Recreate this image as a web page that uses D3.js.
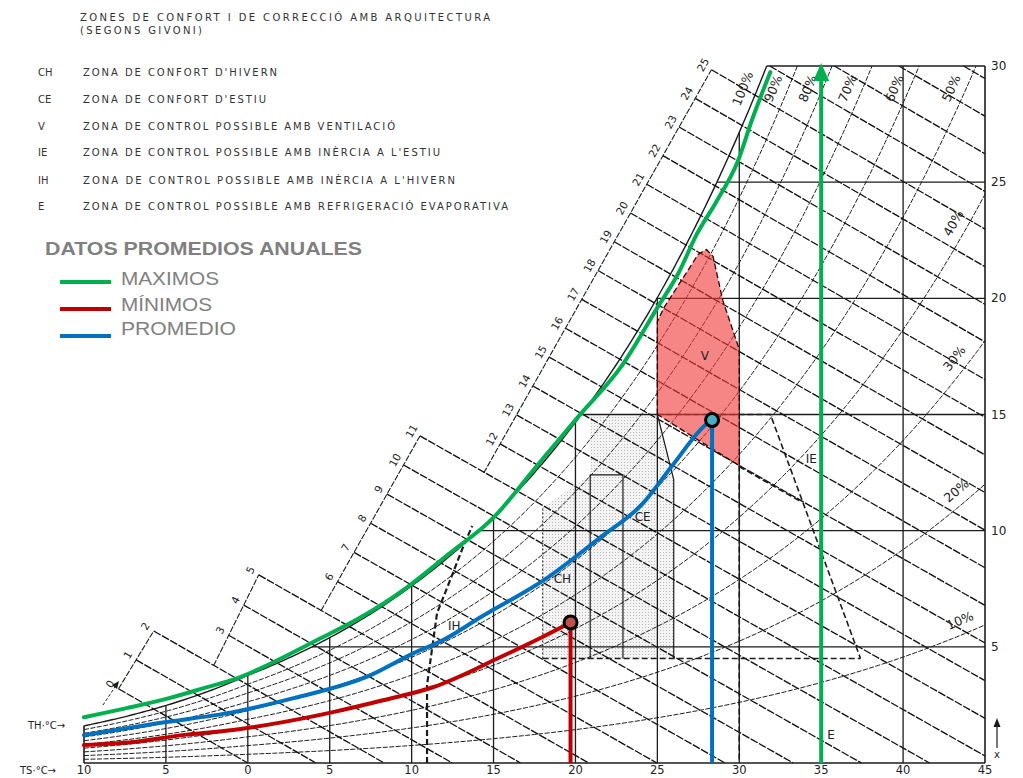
<!DOCTYPE html>
<html>
<head>
<meta charset="utf-8">
<script src="https://cdn.jsdelivr.net/npm/d3@7"></script>
<style>
html, body { margin: 0; padding: 0; background: #fff; }
svg { display: block; }
</style>
</head>
<body>
<svg id="chart" width="1023" height="778"></svg>
<script>
// ---------------- data ----------------
// Axis ticks: dry-bulb temperature (°C) and humidity ratio (g/kg)
const tempTicks = [-10, -5, 0, 5, 10, 15, 20, 25, 30, 35, 40, 45];
const humidityTicks = [5, 10, 15, 20, 25, 30];
// Relative humidity curves (%) and enthalpy lines (kcal/kg)
const rhLevels = [10, 20, 30, 40, 50, 60, 70, 80, 90, 100];
const enthalpyLevels = d3.range(0, 30);

// Annual averages: maximum series (dry bulb °C, humidity g/kg)
const maxTemp = [-10, -7.4, -4.8, -2.7, -0.5, 1.8, 4.2, 6.9, 9.7, 12.3, 15.0, 17.4, 20.1, 22.9, 25.0, 26.3, 27.4, 28.6, 29.9, 30.8, 31.9];
const maxHum  = [1.97, 2.36, 2.79, 3.22, 3.69, 4.42, 5.28, 6.27, 7.55, 9.01, 10.56, 12.58, 14.85, 17.17, 19.6, 21.1, 22.75, 24.16, 25.88, 27.73, 29.74];
const maxDryBulb = 35;

// Minimum series
const minTemp = [-10, -7.0, -4.0, -0.9, 2.15, 5.2, 8.25, 11.3, 15.4, 17.8, 19.7];
const minHum  = [0.77, 0.90, 1.20, 1.42, 1.76, 2.19, 2.70, 3.26, 4.55, 5.36, 6.05];

// Mean series
const avgTemp = [-10, -5.4, -0.9, 2.8, 7.5, 10.1, 11.9, 14.2, 18.3, 21.5, 24.1, 26.0, 28.0, 28.34];
const avgHum  = [1.2, 1.72, 2.19, 2.79, 3.78, 4.72, 5.28, 6.27, 7.98, 9.7, 11.16, 12.88, 14.59, 14.76];

// Givoni zones (dry bulb °C, humidity g/kg)
const zoneV = [[25, 15], [25, 19], [25.4, 19.6], [27.5, 21.9], [28.0, 22.1], [28.4, 21.8], [29, 19.9], [30, 17.8], [30, 12.8]];
const zoneComfort = [[18, 4.5], [18, 11], [20.9, 12.4], [20.9, 15], [25, 15], [26, 12.2], [26, 4.5]];
const zoneIH = [[10.94, 0], [10.94, 3.36], [11.55, 6.45], [12.35, 7.87], [13.14, 9.3], [13.7, 10.2]];
const zoneIE = [[25, 15], [31.9, 15], [37.4, 4.5]];
const zoneBase = [[18, 4.5], [37.4, 4.5]];

const zoneNames = ['CH', 'CE', 'V', 'IE', 'IH', 'E'];
const zoneTexts = [
  "ZONA DE CONFORT D'HIVERN",
  "ZONA DE CONFORT D'ESTIU",
  "ZONA DE CONTROL POSSIBLE AMB VENTILACIÓ",
  "ZONA DE CONTROL POSSIBLE AMB INÈRCIA A L'ESTIU",
  "ZONA DE CONTROL POSSIBLE AMB INÈRCIA A L'HIVERN",
  "ZONA DE CONTROL POSSIBLE AMB REFRIGERACIÓ EVAPORATIVA"
];
const zoneLabelPos = { V: [27.9, 17.5], IE: [34.4, 13.1], CE: [24.1, 10.6], CH: [19.2, 7.9], IH: [12.6, 5.9], E: [35.6, 1.2] };

const legendNames = ['MAXIMOS', 'MÍNIMOS', 'PROMEDIO'];
const legendColors = ['#00b050', '#c00000', '#0070c0'];

// ---------------- scales & psychrometrics ----------------
const svg = d3.select('#chart');
const x = d3.scaleLinear().domain([-10, 45]).range([84, 985]);
const y = d3.scaleLinear().domain([0, 30]).range([763, 66]);

const P = 101.325;
const pws = T => T >= 0 ? 0.61094 * Math.exp(17.625 * T / (T + 243.04))
                        : 0.61115 * Math.exp(22.452 * T / (T + 272.55));
const humidity = (T, rh) => { const p = rh * pws(T); return 622 * p / (P - p); };
const satTemp = W => {
  let lo = -20, hi = 60;
  for (let i = 0; i < 60; i++) { const m = (lo + hi) / 2; if (humidity(m, 1) < W) lo = m; else hi = m; }
  return (lo + hi) / 2;
};
const KCAL = 4.1868;
const enthalpy = (T, W) => (1.006 * T + W / 1000 * (2501 + 1.86 * T)) / KCAL;
const humOnEnthalpy = (H, T) => (H * KCAL - 1.006 * T) / (2501 + 1.86 * T) * 1000;
// dry bulb at which an enthalpy line reaches a given humidity ratio
const tempOnEnthalpy = (H, W) => (H * KCAL - W / 1000 * 2501) / (1.006 + W / 1000 * 1.86);

const line = d3.line().x(d => x(d[0])).y(d => y(d[1]));
const INK = '#1c1c1c';
const FONT = '"DejaVu Sans", sans-serif';

// ---------------- defs ----------------
const defs = svg.append('defs');
const pat = defs.append('pattern').attr('id', 'stipple').attr('width', 3).attr('height', 3)
  .attr('patternUnits', 'userSpaceOnUse');
pat.append('rect').attr('width', 3).attr('height', 3).attr('fill', '#f4f4f4');
pat.append('rect').attr('width', 1).attr('height', 1).attr('fill', '#b8b8b8');

// comfort zones (stippled)
svg.append('path').attr('d', line(zoneComfort) + 'Z').attr('fill', 'url(#stipple)');

// relative humidity curves, stopped at the top border
const curves = svg.append('g').attr('fill', 'none').attr('stroke', INK);
rhLevels.forEach(rh => {
  const phi = rh / 100;
  const tTop = Math.min(45, (() => {
    let lo = -10, hi = 60;
    for (let i = 0; i < 60; i++) { const m = (lo + hi) / 2; if (humidity(m, phi) < 30) lo = m; else hi = m; }
    return (lo + hi) / 2;
  })());
  const pts = d3.range(0, 221).map(i => { const T = -10 + (tTop + 10) * i / 220; return [T, humidity(T, phi)]; });
  curves.append('path').attr('d', line(pts))
    .attr('stroke-width', rh === 100 ? 1.4 : 1)
    .attr('stroke-dasharray', rh === 100 ? null : '5,1.5');
});

// enthalpy scale: stepped segments with a tick for every kcal/kg
const scaleSegments = [
  { from: 0, to: 2, a: [-7.5, 3.65], b: [-5.54, 5.92], base: 0 },
  { from: 3, to: 5, a: [-0.96, 5.79], b: [0.74, 8.20], base: 2 },
  { from: 6, to: 11, a: [5.51, 7.85], b: [10.51, 14.08], base: 5 },
  { from: 12, to: 25, a: [15.40, 13.73], b: [28.22, 29.74], base: 11 }
];
const hAtPx = (px, py) => enthalpy(x.invert(px), y.invert(py));
function pointOnSegment(seg, H) {
  const A = [x(seg.a[0]), y(seg.a[1])], B = [x(seg.b[0]), y(seg.b[1])];
  let lo = -3, hi = 4;
  for (let i = 0; i < 60; i++) {
    const m = (lo + hi) / 2;
    if (hAtPx(A[0] + m * (B[0] - A[0]), A[1] + m * (B[1] - A[1])) < H) lo = m; else hi = m;
  }
  const s = (lo + hi) / 2;
  return [A[0] + s * (B[0] - A[0]), A[1] + s * (B[1] - A[1])];
}

const tickStart = new Map();
scaleSegments.forEach(seg => {
  for (let h = seg.from; h <= seg.to; h++) tickStart.set(h, pointOnSegment(seg, h));
});

// enthalpy lines (practically straight), from their scale tick or the top border to the chart edge
const hLines = svg.append('g').attr('stroke', '#0d0d0d').attr('stroke-width', 1.3).attr('stroke-dasharray', '8,1.5');
enthalpyLevels.forEach(h => {
  const start = tickStart.get(h);
  const t0 = start ? x.invert(start[0]) : tempOnEnthalpy(h, 30);
  const t1 = Math.min(45, tempOnEnthalpy(h, 0));
  if (!(t1 > t0)) return;
  hLines.append('line')
    .attr('x1', x(t0)).attr('y1', y(humOnEnthalpy(h, t0)))
    .attr('x2', x(t1)).attr('y2', y(Math.max(0, humOnEnthalpy(h, t1))));
});

const scaleG = svg.append('g');
scaleSegments.forEach(seg => {
  const p0 = pointOnSegment(seg, seg.base);
  const p1 = pointOnSegment(seg, seg.to);
  scaleG.append('line').attr('x1', p0[0]).attr('y1', p0[1]).attr('x2', p1[0]).attr('y2', p1[1])
    .attr('stroke', INK).attr('stroke-width', 1.1).attr('stroke-dasharray', '6,1.5');
  const ang = Math.atan2(p1[1] - p0[1], p1[0] - p0[0]) * 180 / Math.PI;
  for (let h = seg.from; h <= seg.to; h++) {
    const p = tickStart.get(h);
    const tt = x.invert(p[0]);
    const dx = x(tt + 1) - x(tt), dy = y(humOnEnthalpy(h, tt + 1)) - y(humOnEnthalpy(h, tt));
    const len = Math.hypot(dx, dy);
    const lx = p[0] - dx / len * 10, ly = p[1] - dy / len * 10;
    scaleG.append('text').attr('x', lx).attr('y', ly)
      .attr('transform', `rotate(${ang},${lx},${ly})`)
      .attr('text-anchor', 'middle').attr('dominant-baseline', 'central')
      .attr('font-family', FONT).attr('font-size', 10.5).attr('fill', '#222')
      .text(h);
  }
});

// grid: vertical (dry bulb) and horizontal (humidity ratio)
const grid = svg.append('g').attr('stroke', INK).attr('stroke-width', 1.3);
tempTicks.slice(1, -1).forEach(T => {
  grid.append('line').attr('x1', x(T)).attr('x2', x(T))
    .attr('y1', y(0)).attr('y2', y(Math.min(humidity(T, 1), 30)));
});
humidityTicks.slice(0, -1).forEach(W => {
  grid.append('line').attr('y1', y(W)).attr('y2', y(W))
    .attr('x1', x(satTemp(W))).attr('x2', x(45));
});

// frame
const frame = svg.append('g').attr('stroke', INK).attr('stroke-width', 1.6).attr('fill', 'none');
frame.append('line').attr('x1', x(-10)).attr('x2', x(45)).attr('y1', y(0)).attr('y2', y(0));
frame.append('line').attr('x1', x(45)).attr('x2', x(45)).attr('y1', y(0)).attr('y2', y(30));
frame.append('line').attr('x1', x(satTemp(30))).attr('x2', x(45)).attr('y1', y(30)).attr('y2', y(30));
frame.append('line').attr('x1', x(-10)).attr('x2', x(-10)).attr('y1', y(0)).attr('y2', y(humidity(-10, 1)));

// zone outlines inside the comfort area
const zg = svg.append('g').attr('fill', 'none').attr('stroke', INK);
zg.append('path').attr('d', line([[20.9, 4.5], [20.9, 12.4], [22.9, 12.4], [22.9, 4.5]])).attr('stroke-width', 1.2);
zg.append('path').attr('d', line([[25, 15], [26, 12.2], [26, 4.5]])).attr('stroke-width', 1.2);
zg.append('path').attr('d', line([[18, 4.5], [18, 11]])).attr('stroke-width', 1).attr('stroke-dasharray', '2,2');
// dashed zone boundaries
const dashed = g => g.attr('stroke-width', 1.6).attr('stroke-dasharray', '6,3');
dashed(zg.append('path').attr('d', line(zoneIH))).attr('stroke-width', 2.2);
dashed(zg.append('path').attr('d', line(zoneIE)));
dashed(zg.append('path').attr('d', line(zoneBase)));
dashed(zg.append('path').attr('d', line([[30, 12.8], [30, 0]])));
// evaporative cooling limit along the 15 kcal/kg line, up to the IE boundary
{
  const pts = d3.range(30, 33.91, 0.2).map(T => [T, humOnEnthalpy(15, T)]);
  dashed(zg.append('path').attr('d', line(pts)));
}

// ventilation zone
svg.append('path').attr('d', d3.line().curve(d3.curveLinearClosed).x(d => x(d[0])).y(d => y(d[1]))(zoneV))
  .attr('fill', '#f03a3a').attr('fill-opacity', 0.62)
  .attr('stroke', '#3a0000').attr('stroke-width', 1.3).attr('stroke-dasharray', '6,3');

// zone labels
Object.entries(zoneLabelPos).forEach(([k, p]) => {
  svg.append('text').attr('x', x(p[0])).attr('y', y(p[1]))
    .attr('text-anchor', 'middle').attr('dominant-baseline', 'central')
    .attr('font-family', FONT).attr('font-size', 12).attr('fill', '#222').text(k);
});

// relative humidity labels
rhLevels.forEach(rh => {
  const phi = rh / 100;
  let T;
  if (rh >= 50) {
    let lo = -10, hi = 60;
    for (let i = 0; i < 60; i++) { const m = (lo + hi) / 2; if (humidity(m, phi) < 28.8) lo = m; else hi = m; }
    T = (lo + hi) / 2;
  } else T = 43.8;
  const px = x(T), py = y(humidity(T, phi));
  const dx = x(T + 0.2) - px, dy = y(humidity(T + 0.2, phi)) - py;
  const len = Math.hypot(dx, dy);
  const ux = dx / len, uy = dy / len;
  // offset toward the upper-left side of the curve
  const lx = px + uy * 14, ly = py - ux * 14;
  const ang = Math.atan2(dy, dx) * 180 / Math.PI;
  svg.append('text').attr('x', lx).attr('y', ly)
    .attr('transform', `rotate(${ang},${lx},${ly})`)
    .attr('text-anchor', 'middle').attr('dominant-baseline', 'central')
    .attr('font-family', FONT).attr('font-size', 12.5).attr('fill', '#222')
    .text(rh + '%');
});

// ---------------- data series ----------------
const series = svg.append('g').attr('fill', 'none').attr('stroke-width', 4).attr('stroke-linecap', 'round');
const smooth = d3.line().curve(d3.curveMonotoneX).x(d => x(d[0])).y(d => y(d[1]));

const maxPts = maxTemp.map((t, i) => [t, maxHum[i]]);
const minPts = minTemp.map((t, i) => [t, minHum[i]]);
const avgPts = avgTemp.map((t, i) => [t, avgHum[i]]);

series.append('path').attr('d', smooth(maxPts)).attr('stroke', legendColors[0]);
series.append('path').attr('d', smooth(minPts)).attr('stroke', legendColors[1]);
series.append('path').attr('d', smooth(avgPts)).attr('stroke', legendColors[2]);

// vertical drops to the dry-bulb axis
const minLast = minPts[minPts.length - 1], avgLast = avgPts[avgPts.length - 1];
series.append('line').attr('x1', x(minLast[0])).attr('x2', x(minLast[0]))
  .attr('y1', y(minLast[1])).attr('y2', y(0)).attr('stroke', legendColors[1]).attr('stroke-linecap', 'butt');
series.append('line').attr('x1', x(avgLast[0])).attr('x2', x(avgLast[0]))
  .attr('y1', y(avgLast[1])).attr('y2', y(0)).attr('stroke', legendColors[2]).attr('stroke-linecap', 'butt');

// maximum dry-bulb arrow
series.append('line').attr('x1', x(maxDryBulb)).attr('x2', x(maxDryBulb))
  .attr('y1', y(0)).attr('y2', y(30) + 14).attr('stroke', legendColors[0]).attr('stroke-linecap', 'butt');
svg.append('path')
  .attr('d', `M${x(maxDryBulb)},${y(30) - 3} L${x(maxDryBulb) - 8},${y(30) + 15} L${x(maxDryBulb) + 8},${y(30) + 15} Z`)
  .attr('fill', legendColors[0]);

// end points
svg.append('circle').attr('cx', x(minLast[0])).attr('cy', y(minLast[1])).attr('r', 6.5)
  .attr('fill', '#c0504d').attr('stroke', '#000').attr('stroke-width', 3);
svg.append('circle').attr('cx', x(avgLast[0])).attr('cy', y(avgLast[1])).attr('r', 6.5)
  .attr('fill', '#4bacc6').attr('stroke', '#000').attr('stroke-width', 3);

// ---------------- axes text ----------------
const axisText = svg.append('g').attr('font-family', FONT).attr('fill', '#222');
tempTicks.forEach(T => {
  axisText.append('text').attr('x', x(T)).attr('y', 774).attr('text-anchor', 'middle')
    .attr('font-size', 11.5).text(Math.abs(T));
});
humidityTicks.forEach(W => {
  axisText.append('text').attr('x', 991).attr('y', y(W)).attr('dominant-baseline', 'central')
    .attr('font-size', 12).text(W);
});
axisText.append('text').attr('x', 20).attr('y', 774).attr('font-size', 10).text('TS·°C→');
axisText.append('text').attr('x', 28).attr('y', 729).attr('font-size', 10).text('TH·°C→');
// humidity ratio marker at the lower right
svg.append('line').attr('x1', 997).attr('x2', 997).attr('y1', 748).attr('y2', 722)
  .attr('stroke', INK).attr('stroke-width', 1.2);
svg.append('path').attr('d', 'M997,718 L993.5,727 L1000.5,727 Z').attr('fill', INK);
axisText.append('text').attr('x', 997).attr('y', 758).attr('text-anchor', 'middle').attr('font-size', 10).text('x');
// arrow pointing at the start of the scale
svg.append('path').attr('d', 'M103,705 L117,684').attr('stroke', INK).attr('stroke-width', 1)
  .attr('stroke-dasharray', '3,2').attr('fill', 'none');
svg.append('path').attr('d', 'M119,681 L112,685 L117,689 Z').attr('fill', INK);

// ---------------- header ----------------
const head = svg.append('g').attr('font-family', FONT).attr('fill', '#333').attr('font-size', 10);
head.append('text').attr('x', 80).attr('y', 21).attr('textLength', 410).attr('lengthAdjust', 'spacing')
  .text('ZONES DE CONFORT I DE CORRECCIÓ AMB ARQUITECTURA');
head.append('text').attr('x', 80).attr('y', 34).attr('textLength', 122).attr('lengthAdjust', 'spacing')
  .text('(SEGONS GIVONI)');
const rowY = [76, 103, 130, 156, 184, 210];
const rowLen = [194, 183, 312, 357, 372, 425];
zoneNames.forEach((n, i) => {
  head.append('text').attr('x', 38).attr('y', rowY[i]).text(n);
  head.append('text').attr('x', 83).attr('y', rowY[i]).attr('textLength', rowLen[i])
    .attr('lengthAdjust', 'spacing').text(zoneTexts[i]);
});

// ---------------- legend ----------------
const lg = svg.append('g').attr('font-family', '"Liberation Sans", Arial, sans-serif').attr('fill', '#808080');
lg.append('text').attr('x', 45).attr('y', 255).attr('font-size', 18).attr('font-weight', 'bold')
  .attr('textLength', 317).attr('lengthAdjust', 'spacingAndGlyphs').text('DATOS PROMEDIOS ANUALES');
const legY = [282, 309, 336];
const txtY = [285, 311, 335];
const txtLen = [98, 91, 115];
legendNames.forEach((n, i) => {
  lg.append('line').attr('x1', 60).attr('x2', 111).attr('y1', legY[i]).attr('y2', legY[i])
    .attr('stroke', legendColors[i]).attr('stroke-width', 4);
  lg.append('text').attr('x', 121).attr('y', txtY[i]).attr('font-size', 18.5)
    .attr('textLength', txtLen[i]).attr('lengthAdjust', 'spacingAndGlyphs').text(n);
});
</script>
</body>
</html>
